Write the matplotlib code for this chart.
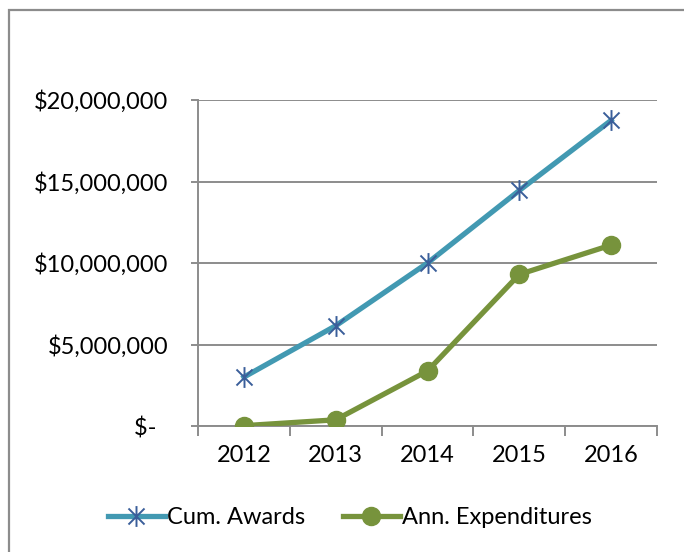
import matplotlib.pyplot as plt
from matplotlib.patches import Rectangle
from matplotlib.path import Path
from matplotlib.ticker import FuncFormatter, FixedLocator

plt.rcParams['font.family'] = ['Lato', 'DejaVu Sans']

# data
years = ['2012', '2013', '2014', '2015', '2016']
cum_awards = [3.0e6, 6.15e6, 10.0e6, 14.45e6, 18.75e6]
ann_expend = [0.02e6, 0.38e6, 3.38e6, 9.3e6, 11.1e6]

fig = plt.figure(figsize=(6.84, 5.52), dpi=100)
ax = fig.add_axes([198 / 684, 1 - 426 / 552, (657 - 198) / 684, (426 - 100) / 552])

# outer chart border (clipped at right and bottom like the reference)
fig.patches.append(Rectangle((9 / 684, -0.05), 1.2, 1 - 10 / 552 + 0.05,
                             transform=fig.transFigure, fill=False,
                             edgecolor='#8c8c8c', linewidth=1.6))

# excel style star: an X with a vertical bar through it
star = Path([(-1, -1), (1, 1), (-1, 1), (1, -1), (0, -1.3), (0, 1.3)],
            [Path.MOVETO, Path.LINETO, Path.MOVETO, Path.LINETO,
             Path.MOVETO, Path.LINETO])

x = range(len(years))
ax.plot(x, cum_awards, color='#4299B2', linewidth=3.8, marker=star,
        markersize=15, markeredgecolor='#3A5E9A', markeredgewidth=1.4,
        label='Cum. Awards', zorder=3)
ax.plot(x, ann_expend, color='#77933C', linewidth=3.8, marker='o',
        markersize=13, markerfacecolor='#77933C', markeredgecolor='#77933C',
        label='Ann. Expenditures', zorder=3)

ax.set_xlim(-0.5, 4.5)
ax.set_ylim(0, 20e6)
ax.set_yticks([0, 5e6, 10e6, 15e6, 20e6])


def money(v, pos):
    if v == 0:
        return '$-  '
    return '${:,.0f}'.format(v)


ax.yaxis.set_major_formatter(FuncFormatter(money))
ax.set_xticks(list(x))
ax.set_xticklabels(years)
ax.xaxis.set_minor_locator(FixedLocator([-0.5, 0.5, 1.5, 2.5, 3.5, 4.5]))

ax.grid(axis='y', color='#8c8c8c', linewidth=1.4)
ax.set_axisbelow(True)
for s in ['top', 'right']:
    ax.spines[s].set_visible(False)
for s in ['left', 'bottom']:
    ax.spines[s].set_color('#8c8c8c')
    ax.spines[s].set_linewidth(1.4)

ax.tick_params(axis='y', length=5, width=1.4, color='#8c8c8c', pad=16.5,
               labelsize=17, labelcolor='black')
ax.tick_params(axis='x', which='major', length=0, pad=14, labelsize=17)
ax.tick_params(axis='x', which='minor', length=7, width=1.4, color='#8c8c8c')

fig.legend(loc='center', bbox_to_anchor=(350 / 684, 1 - 518 / 552), ncol=2,
           frameon=False, fontsize=17, handlelength=2.4, handletextpad=0.1,
           columnspacing=1.6)

fig.savefig('out.png', dpi=100)
